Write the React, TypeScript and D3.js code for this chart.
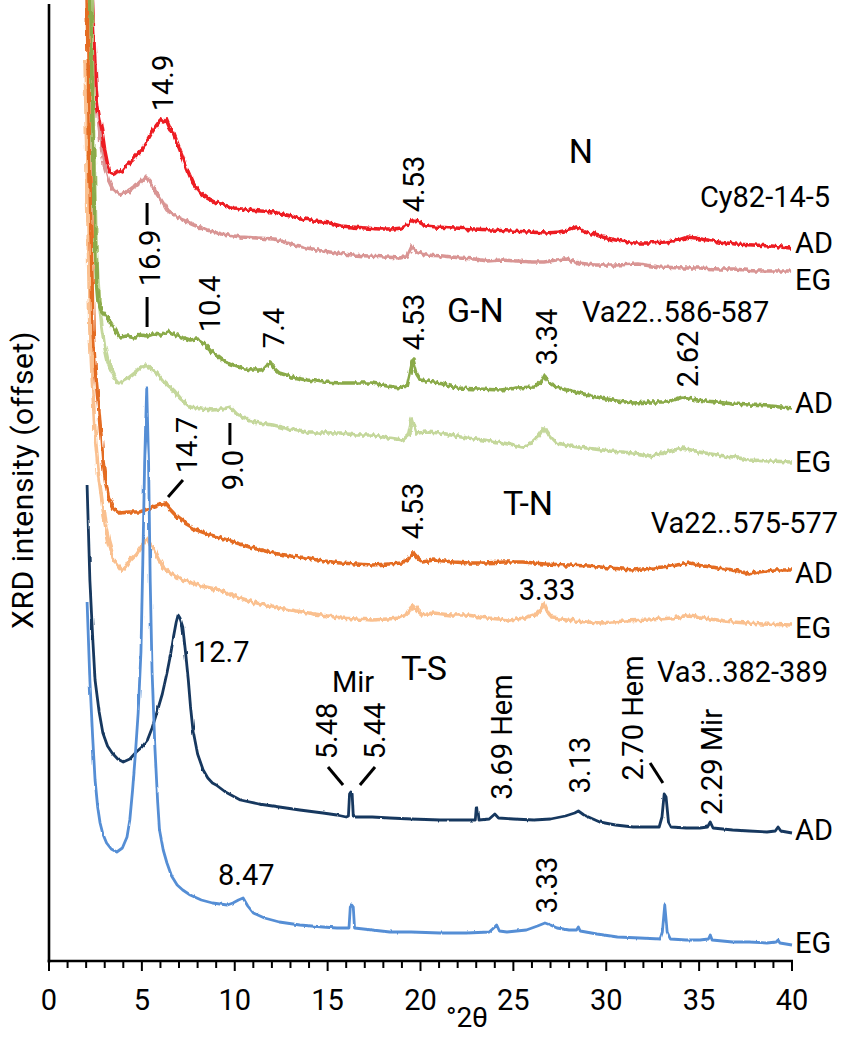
import React from "react";
import * as d3 from "d3";

// XRD patterns, intensity in arbitrary offset units
const nAD: [number, number][] = [
  [2.25, 1000], [2.35, 950], [2.5, 880], [2.62, 855], [2.75, 842], [2.9, 825], [3.0, 812], [3.15, 798],
  [3.3, 790], [3.5, 788], [3.7, 791], [3.9, 790], [4.2, 797], [4.45, 801], [4.7, 806], [5.0, 812],
  [5.3, 822], [5.55, 830], [5.8, 837], [6.0, 842], [6.15, 840], [6.3, 843], [6.5, 834], [6.7, 829],
  [6.95, 817], [7.2, 805], [7.45, 792], [7.75, 779], [8.1, 770], [8.5, 764], [8.9, 760], [9.4, 757],
  [10.0, 754], [10.7, 752], [11.4, 751], [12.1, 750], [12.8, 747], [13.5, 744], [14.3, 741], [15.1, 739],
  [15.7, 736], [16.3, 735], [17.0, 734], [17.8, 733], [18.5, 733], [19.0, 734], [19.3, 737], [19.6, 742],
  [19.9, 740], [20.3, 736], [20.8, 735], [21.8, 734], [22.9, 733], [23.8, 732], [24.8, 731], [25.8, 730],
  [26.7, 729], [27.5, 730], [28.0, 732], [28.4, 735], [28.8, 731], [29.3, 728], [29.8, 725], [30.5, 722],
  [31.5, 719], [32.3, 719], [33.2, 720], [33.9, 722], [34.4, 725], [34.8, 724], [35.4, 722], [36.0, 720],
  [37.0, 718], [37.9, 717], [38.9, 716], [39.9, 714],
];
const nEG: [number, number][] = [
  [2.28, 1000], [2.4, 930], [2.55, 870], [2.7, 835], [2.85, 810], [3.0, 795], [3.2, 782], [3.45, 772],
  [3.8, 768], [4.2, 770], [4.55, 775], [4.9, 779], [5.2, 785], [5.45, 780], [5.8, 769], [6.1, 760],
  [6.35, 752], [6.8, 746], [7.2, 742], [7.8, 737], [8.5, 732], [9.3, 728], [10.3, 725], [11.2, 724],
  [12.1, 723], [13.0, 718], [13.9, 714], [14.7, 711], [15.5, 709], [16.3, 707], [17.2, 706], [18.1, 705],
  [18.9, 704], [19.3, 706], [19.55, 716], [19.8, 710], [20.25, 707], [21.2, 706], [22.1, 704], [22.9, 703],
  [23.6, 701], [24.3, 702], [25.2, 701], [26.0, 700], [26.65, 700], [27.3, 702], [27.8, 703], [28.5, 699],
  [29.4, 697], [30.5, 697], [31.7, 698], [32.9, 695], [34.1, 694], [35.0, 694], [36.0, 693], [36.9, 693],
  [38.0, 691], [39.0, 691], [39.95, 691],
];
const gnAD: [number, number][] = [
  [2.2, 1000], [2.35, 850], [2.47, 730], [2.57, 675], [2.64, 660], [2.8, 652], [3.1, 645], [3.3, 640],
  [3.65, 629], [3.8, 625], [4.2, 626], [4.6, 624], [4.9, 627], [5.3, 626], [5.6, 628], [6.0, 627],
  [6.35, 631], [6.7, 628], [7.1, 625], [7.6, 622], [7.95, 623], [8.3, 619], [8.7, 611], [9.2, 604],
  [9.7, 598], [10.3, 594], [10.9, 592], [11.4, 592], [11.7, 594], [11.9, 600], [12.1, 594], [12.4, 589],
  [13.1, 585], [13.9, 582], [14.8, 580], [15.7, 579], [16.5, 579], [17.4, 579], [18.2, 576], [18.9, 574],
  [19.3, 577], [19.6, 602], [19.8, 588], [20.0, 582], [20.7, 580], [21.4, 577], [22.0, 574], [23.1, 573],
  [24.3, 572], [25.2, 574], [26.1, 575], [26.45, 580], [26.65, 587], [26.9, 580], [27.3, 575], [28.1, 571],
  [28.95, 567], [29.7, 564], [30.6, 561], [31.45, 559], [32.3, 560], [33.25, 560], [33.8, 563], [34.1, 565],
  [34.6, 563], [35.3, 561], [35.95, 560], [36.8, 558], [37.7, 557], [38.8, 556], [40.0, 554],
];
const gnEG: [number, number][] = [
  [2.25, 1000], [2.4, 830], [2.55, 710], [2.7, 662], [2.85, 635], [3.0, 615], [3.15, 602], [3.3, 595],
  [3.55, 585], [3.8, 579], [4.1, 582], [4.35, 585], [4.7, 590], [5.0, 595], [5.2, 597], [5.45, 594],
  [5.8, 589], [6.2, 580], [6.7, 572], [7.1, 563], [7.6, 555], [8.2, 553], [8.8, 552], [9.3, 553],
  [9.75, 555], [10.1, 548], [10.65, 542], [11.3, 539], [12.05, 537], [12.9, 533], [13.9, 529], [14.8, 529],
  [15.7, 529], [16.5, 527], [17.4, 527], [18.3, 524], [19.05, 522], [19.35, 527], [19.55, 544], [19.8, 529],
  [20.3, 530], [21.05, 529], [21.6, 527], [22.5, 524], [23.4, 522], [24.5, 519], [25.5, 515], [26.0, 520],
  [26.3, 525], [26.65, 534], [26.95, 526], [27.3, 519], [28.1, 516], [28.95, 514], [30.2, 511], [31.45, 509],
  [32.35, 505], [33.2, 510], [34.1, 514], [35.0, 510], [35.95, 507], [36.8, 505], [37.7, 502], [38.8, 501],
  [40.0, 500],
];
const tnAD: [number, number][] = [
  [2.0, 1020], [2.05, 962], [2.2, 790], [2.37, 632], [2.5, 590], [2.64, 562], [2.78, 530], [2.9, 502],
  [3.05, 480], [3.2, 465], [3.5, 453], [3.8, 449], [4.3, 450], [4.9, 450], [5.3, 453], [5.7, 455],
  [6.0, 457], [6.25, 459], [6.5, 453], [6.9, 445], [7.4, 438], [7.95, 432], [8.7, 427], [9.6, 422],
  [10.8, 415], [12.05, 409], [13.0, 406], [13.9, 404], [14.8, 401], [15.7, 399], [16.5, 398], [17.4, 397],
  [18.3, 398], [19.0, 399], [19.35, 403], [19.6, 410], [19.85, 404], [20.1, 400], [20.7, 402], [21.8, 400],
  [22.6, 399], [23.4, 399], [24.5, 400], [25.5, 400], [26.7, 398], [27.9, 397], [29.0, 396], [30.2, 394],
  [31.45, 392], [32.5, 394], [33.5, 396], [34.5, 399], [35.2, 396], [36.0, 394], [36.8, 392], [37.3, 390],
  [37.7, 388], [38.2, 390], [39.0, 392], [40.0, 392],
];
const tnEG: [number, number][] = [
  [1.94, 902], [2.05, 790], [2.2, 632], [2.35, 575], [2.48, 529], [2.65, 490], [2.85, 462], [3.0, 440],
  [3.2, 422], [3.5, 402], [3.9, 392], [4.15, 396], [4.35, 402], [4.7, 408], [5.0, 416], [5.3, 424],
  [5.6, 415], [5.9, 403], [6.15, 395], [6.6, 388], [7.2, 382], [8.2, 376], [9.2, 372], [10.1, 365],
  [11.0, 360], [12.0, 355], [13.0, 352], [14.3, 348], [15.7, 344], [16.5, 343], [17.4, 342], [18.2, 343],
  [18.9, 344], [19.3, 348], [19.6, 357], [19.85, 351], [20.1, 347], [20.7, 349], [21.6, 347], [22.5, 347],
  [23.6, 344], [24.8, 342], [25.6, 344], [26.1, 347], [26.45, 351], [26.65, 359], [26.85, 350], [27.1, 344],
  [28.3, 341], [29.7, 339], [31.0, 341], [32.35, 342], [33.5, 344], [34.5, 347], [35.6, 343], [36.8, 340],
  [38.4, 338], [40.0, 337],
];
const tsAD: [number, number][] = [
  [2.05, 477], [2.2, 382], [2.35, 325], [2.48, 282], [2.7, 250], [2.9, 229], [3.15, 216], [3.4, 209],
  [3.7, 203], [4.0, 200], [4.35, 203], [4.7, 210], [5.0, 215], [5.3, 222], [5.55, 234], [5.8, 249],
  [6.1, 268], [6.35, 289], [6.55, 308], [6.7, 325], [6.85, 340], [6.95, 347], [7.05, 344], [7.2, 335],
  [7.35, 310], [7.5, 282], [7.62, 255], [7.75, 232], [8.0, 208], [8.3, 192], [8.55, 184], [8.8, 179],
  [9.0, 177], [9.5, 170], [10.3, 162], [11.3, 158], [12.4, 155], [13.5, 152], [14.75, 149], [15.5, 147],
  [16.0, 145], [16.12, 146], [16.18, 168], [16.25, 170], [16.32, 168], [16.38, 146], [16.5, 145], [17.4, 145],
  [18.35, 144], [19.5, 143], [21.05, 142], [22.0, 142], [22.95, 142], [23.0, 154], [23.08, 154], [23.15, 142],
  [23.7, 143], [24.0, 148], [24.2, 144], [25.0, 143], [26.1, 142], [27.0, 143], [27.8, 146], [28.3, 149],
  [28.5, 151], [28.8, 147], [29.65, 140], [30.5, 137], [31.45, 135], [32.3, 135], [32.85, 135], [33.0, 145],
  [33.12, 168], [33.22, 165], [33.35, 140], [33.5, 135], [34.3, 134], [35.05, 134], [35.45, 135], [35.6, 140],
  [35.75, 134], [36.8, 132], [37.7, 131], [38.65, 130], [39.1, 131], [39.25, 135], [39.4, 131], [40.0, 129],
];
const tsEG: [number, number][] = [
  [2.05, 360], [2.2, 282], [2.35, 225], [2.48, 182], [2.62, 155], [2.75, 139], [2.9, 128], [3.1, 119],
  [3.35, 113], [3.65, 110], [3.95, 114], [4.2, 125], [4.35, 142], [4.5, 172], [4.65, 208], [4.8, 249],
  [4.95, 310], [5.05, 400], [5.15, 500], [5.26, 574], [5.36, 500], [5.45, 380], [5.55, 290], [5.7, 215],
  [5.85, 160], [5.95, 132], [6.15, 112], [6.35, 99], [6.6, 86], [6.9, 77], [7.2, 72], [7.6, 67],
  [8.2, 62], [8.8, 59], [9.2, 58], [9.6, 57], [9.9, 59], [10.2, 62], [10.45, 64], [10.7, 56],
  [11.0, 49], [11.6, 44], [12.4, 40], [13.5, 37], [14.75, 35], [15.5, 34], [16.15, 34], [16.22, 55],
  [16.3, 57], [16.38, 55], [16.45, 34], [17.4, 32], [18.35, 30], [19.5, 30], [21.05, 29], [22.5, 29],
  [23.7, 30], [24.0, 35], [24.1, 37], [24.25, 31], [24.65, 30], [25.7, 32], [26.3, 36], [26.7, 39],
  [27.0, 37], [27.35, 34], [28.0, 32], [28.4, 32], [28.5, 35], [28.6, 31], [29.5, 28], [30.6, 25],
  [31.8, 24], [32.9, 23], [33.02, 30], [33.15, 57], [33.28, 30], [33.45, 23], [34.3, 22], [35.05, 22],
  [35.5, 23], [35.6, 27], [35.7, 22], [36.8, 20], [37.7, 20], [38.65, 19], [39.15, 20], [39.25, 22],
  [39.35, 19], [40.0, 17],
];

const xTicks = [0, 5, 10, 15, 20, 25, 30, 35, 40];

// peak labels written sideways: [text, 2theta, intensity] (baseline / centre)
const sideLabels: [string, number, number][] = [
  ["14.9", 6.68, 879], ["4.53", 20.19, 778], ["16.9", 5.98, 704], ["10.4", 9.21, 658],
  ["7.4", 12.65, 634], ["4.53", 20.19, 640], ["3.34", 27.35, 625], ["2.62", 34.94, 603],
  ["9.0", 10.44, 492], ["14.7", 7.97, 517], ["4.53", 20.13, 451], ["5.48", 15.5, 231],
  ["5.44", 18.09, 231], ["3.69 Hem", 24.93, 225], ["3.13", 29.12, 197], ["2.70 Hem", 31.98, 244],
  ["2.29 Mir", 36.23, 200], ["3.33", 27.35, 77],
];
// upright labels: [text, 2theta, intensity, anchor, big]
const flatLabels: [string, number, number, string, boolean][] = [
  ["N", 28.64, 799, "middle", true], ["Cy82-14-5", 42.05, 755, "end", false],
  ["AD", 40.16, 709, "start", false], ["EG", 40.16, 672, "start", false],
  ["G-N", 21.43, 640, "start", true], ["Va22..586-587", 28.69, 640, "start", false],
  ["AD", 40.16, 549, "start", false], ["EG", 40.16, 490, "start", false],
  ["T-N", 24.44, 447, "start", true], ["Va22..575-577", 42.48, 429, "end", false],
  ["AD", 40.16, 379, "start", false], ["EG", 40.16, 324, "start", false],
  ["3.33", 26.81, 362, "middle", false], ["12.7", 7.75, 300, "start", false],
  ["T-S", 18.95, 282, "start", true], ["Mir", 16.37, 270, "middle", false],
  ["Va3..382-389", 32.73, 280, "start", false],
  ["AD", 40.16, 122, "start", false], ["EG", 40.16, 9, "start", false],
  ["8.47", 9.1, 77, "start", false],
];
// leader lines [t1, i1, t2, i2]
const leaders: [number, number, number, number][] = [
  [5.28, 759, 5.28, 737], [5.28, 665, 5.28, 635], [9.74, 539, 9.74, 517],
  [6.41, 465, 7.21, 482], [15.02, 195, 15.83, 177], [17.55, 195, 16.74, 177],
  [32.36, 199, 33.05, 179],
];

const series = [
  { data: nEG, color: "#d99594", w: 3.6, f: "noisy" },
  { data: nAD, color: "#ed1c24", w: 3.6, f: "noisy" },
  { data: gnEG, color: "#c4d79b", w: 3.6, f: "noisy" },
  { data: gnAD, color: "#8aaa48", w: 3.6, f: "noisy" },
  { data: tnEG, color: "#fac08f", w: 3.6, f: "noisy" },
  { data: tnAD, color: "#e46c24", w: 3.6, f: "noisy" },
  { data: tsAD, color: "#17375e", w: 2.8, f: "calm" },
  { data: tsEG, color: "#558ed5", w: 2.8, f: "calm" },
];

export default function App() {
  const x = d3.scaleLinear().domain([0, 40]).range([49, 792]);
  const y = d3.scaleLinear().domain([0, 962]).range([962, 0]);
  const line = d3.line<[number, number]>().x(d => x(d[0])).y(d => y(d[1]));
  const base = y(0) - 1;
  const font = "Roboto, 'Noto Sans', sans-serif";

  return (
    <svg width={845} height={1037} style={{ position: "absolute", left: 0, top: 0, background: "#fff" }}
      fontFamily={font}>
      <defs>
        <filter id="noisy" filterUnits="userSpaceOnUse" x="0" y="0" width="845" height="1037">
          <feTurbulence type="fractalNoise" baseFrequency="0.4 0.08" numOctaves="1" seed="3" result="n" />
          <feDisplacementMap in="SourceGraphic" in2="n" scale="6" xChannelSelector="G" yChannelSelector="R" />
        </filter>
        <filter id="calm" filterUnits="userSpaceOnUse" x="0" y="0" width="845" height="1037">
          <feTurbulence type="fractalNoise" baseFrequency="0.3 0.06" numOctaves="1" seed="7" result="n" />
          <feDisplacementMap in="SourceGraphic" in2="n" scale="2.5" xChannelSelector="G" yChannelSelector="R" />
        </filter>
      </defs>

      {series.map((s, i) => (
        <path key={i} d={line(s.data) || ""} fill="none" stroke={s.color} strokeWidth={s.w}
          strokeLinejoin="round" filter={`url(#${s.f})`} />
      ))}

      {/* axes */}
      <line x1={x(0)} x2={x(0)} y1={4} y2={base + 1.5} stroke="#000" strokeWidth={2.6} />
      <line x1={x(0) - 1.3} x2={x(40) + 1} y1={base} y2={base} stroke="#000" strokeWidth={2.6} />
      {x.ticks(40).map(t => (
        <line key={t} x1={x(t)} x2={x(t)} y1={base} y2={base + (t % 5 === 0 ? 10 : 7)}
          stroke="#000" strokeWidth={2} />
      ))}
      {xTicks.map(t => (
        <text key={t} x={x(t)} y={1010} textAnchor="middle" fontSize={29}>{t}</text>
      ))}
      <text x={467} y={1027} textAnchor="middle" fontSize={28}>°2θ</text>
      <text transform="translate(33,480) rotate(-90)" textAnchor="middle" fontSize={30}
        letterSpacing={0.6}>XRD intensity (offset)</text>

      {/* annotations */}
      {sideLabels.map(([t, a, b], i) => (
        <text key={i} transform={`translate(${x(a)},${y(b)}) rotate(-90)`} textAnchor="middle"
          fontSize={29}>{t}</text>
      ))}
      {flatLabels.map(([t, a, b, anchor, big], i) => (
        <text key={i} x={x(a)} y={y(b)} textAnchor={anchor} fontSize={big ? 34 : 29}>{t}</text>
      ))}
      {leaders.map(([a1, b1, a2, b2], i) => (
        <line key={i} x1={x(a1)} y1={y(b1)} x2={x(a2)} y2={y(b2)} stroke="#000" strokeWidth={3} />
      ))}
    </svg>
  );
}
